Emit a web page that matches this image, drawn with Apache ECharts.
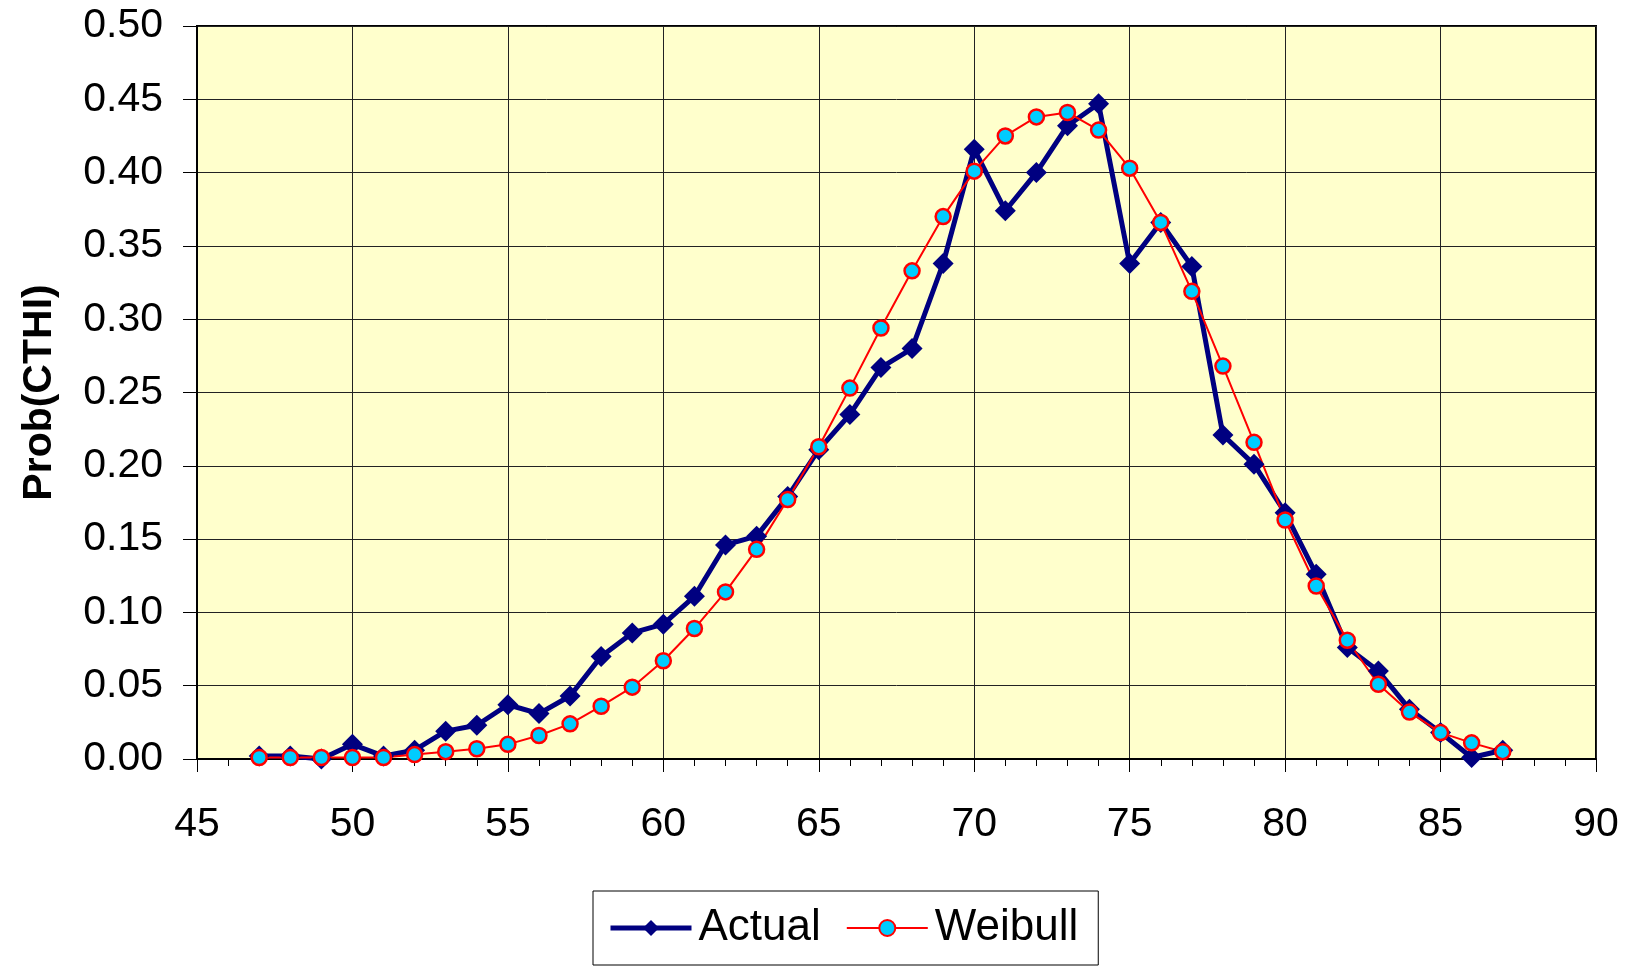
<!DOCTYPE html>
<html>
<head>
<meta charset="utf-8">
<script src="https://cdn.jsdelivr.net/npm/echarts@6/dist/echarts.min.js"></script>
<style>
  html, body { margin: 0; padding: 0; background: #fff; }
  #chart { width: 1629px; height: 966px; }
</style>
</head>
<body>
<div id="chart"></div>
<script>
// x values (CTHI)
const cthi = [47, 48, 49, 50, 51, 52, 53, 54, 55, 56, 57, 58, 59, 60, 61, 62, 63, 64, 65, 66, 67,
  68, 69, 70, 71, 72, 73, 74, 75, 76, 77, 78, 79, 80, 81, 82, 83, 84, 85, 86, 87]

const actual = [0.002, 0.002, 0.000, 0.010, 0.002, 0.006, 0.019, 0.023, 0.037, 0.031, 0.043,
  0.070, 0.086, 0.092, 0.111, 0.146, 0.152, 0.179, 0.211, 0.235, 0.267,
  0.280, 0.338, 0.416, 0.374, 0.400, 0.432, 0.447, 0.338, 0.366, 0.336,
  0.221, 0.201, 0.168, 0.126, 0.076, 0.060, 0.034, 0.018, 0.001, 0.006]

const weibull = [0.001, 0.001, 0.001, 0.001, 0.001, 0.003, 0.005, 0.007, 0.010, 0.016, 0.024,
  0.036, 0.049, 0.067, 0.089, 0.114, 0.143, 0.177, 0.213, 0.253, 0.294,
  0.333, 0.370, 0.401, 0.425, 0.438, 0.441, 0.429, 0.403, 0.366, 0.319,
  0.268, 0.216, 0.163, 0.118, 0.081, 0.051, 0.032, 0.018, 0.011, 0.005]

const font = 'Liberation Sans, Arial, sans-serif'

const chart = echarts.init(document.getElementById('chart'))

const option = {
  animation: false,
  grid: {
    left: 197,
    right: 33,
    top: 26,
    bottom: 207,
    outerBoundsMode: 'none',
    show: true,
    backgroundColor: '#FFFFCC',
    borderColor: '#000',
    borderWidth: 2
  },
  legend: {
    left: 593,
    top: 891,
    orient: 'horizontal',
    itemWidth: 81,
    itemHeight: 20,
    itemGap: 25,
    padding: [15, 20, 15, 15],
    borderColor: '#000',
    borderWidth: 1,
    borderRadius: 0,
    textStyle: {
      fontFamily: font,
      fontSize: 44,
      color: '#000',
      padding: [0, 0, 0, 2]
    },
    data: [
      { name: 'Actual', lineStyle: { width: 5 } },
      { name: 'Weibull', lineStyle: { width: 2 } }
    ]
  },
  xAxis: {
    type: 'value',
    min: 45,
    max: 90,
    interval: 5,
    axisLine: { onZero: false, lineStyle: { color: '#000', width: 2 } },
    axisTick: { length: 13, lineStyle: { color: '#000', width: 1 } },
    minorTick: { show: true, splitNumber: 5, length: 7, lineStyle: { color: '#000', width: 1 } },
    splitLine: { show: true, lineStyle: { color: '#222', width: 1 } },
    axisLabel: {
      margin: 45,
      fontFamily: font,
      fontSize: 41,
      color: '#000'
    }
  },
  yAxis: {
    type: 'value',
    name: 'Prob(CTHI)',
    nameLocation: 'middle',
    nameGap: 137,
    nameRotate: 90,
    nameTextStyle: {
      fontFamily: font,
      fontSize: 41,
      fontWeight: 'bold',
      color: '#000'
    },
    min: 0,
    max: 0.5,
    interval: 0.05,
    axisLine: { show: true, lineStyle: { color: '#000', width: 2 } },
    axisTick: { show: true, length: 14, lineStyle: { color: '#000', width: 1 } },
    splitLine: { show: true, lineStyle: { color: '#222', width: 1 } },
    axisLabel: {
      margin: 34,
      fontFamily: font,
      fontSize: 41,
      color: '#000',
      formatter: v => v.toFixed(2)
    }
  },
  series: [
    {
      name: 'Actual',
      type: 'line',
      data: cthi.map((x, i) => [x, actual[i]]),
      symbol: 'diamond',
      symbolSize: 21,
      lineStyle: { color: '#000080', width: 5 },
      itemStyle: { color: '#000080' }
    },
    {
      name: 'Weibull',
      type: 'line',
      data: cthi.map((x, i) => [x, weibull[i]]),
      symbol: 'circle',
      symbolSize: 15,
      lineStyle: { color: '#FF0000', width: 2 },
      itemStyle: { color: '#00CCFF', borderColor: '#FF0000', borderWidth: 2.5 }
    }
  ]
}

chart.setOption(option)
</script>
</body>
</html>
